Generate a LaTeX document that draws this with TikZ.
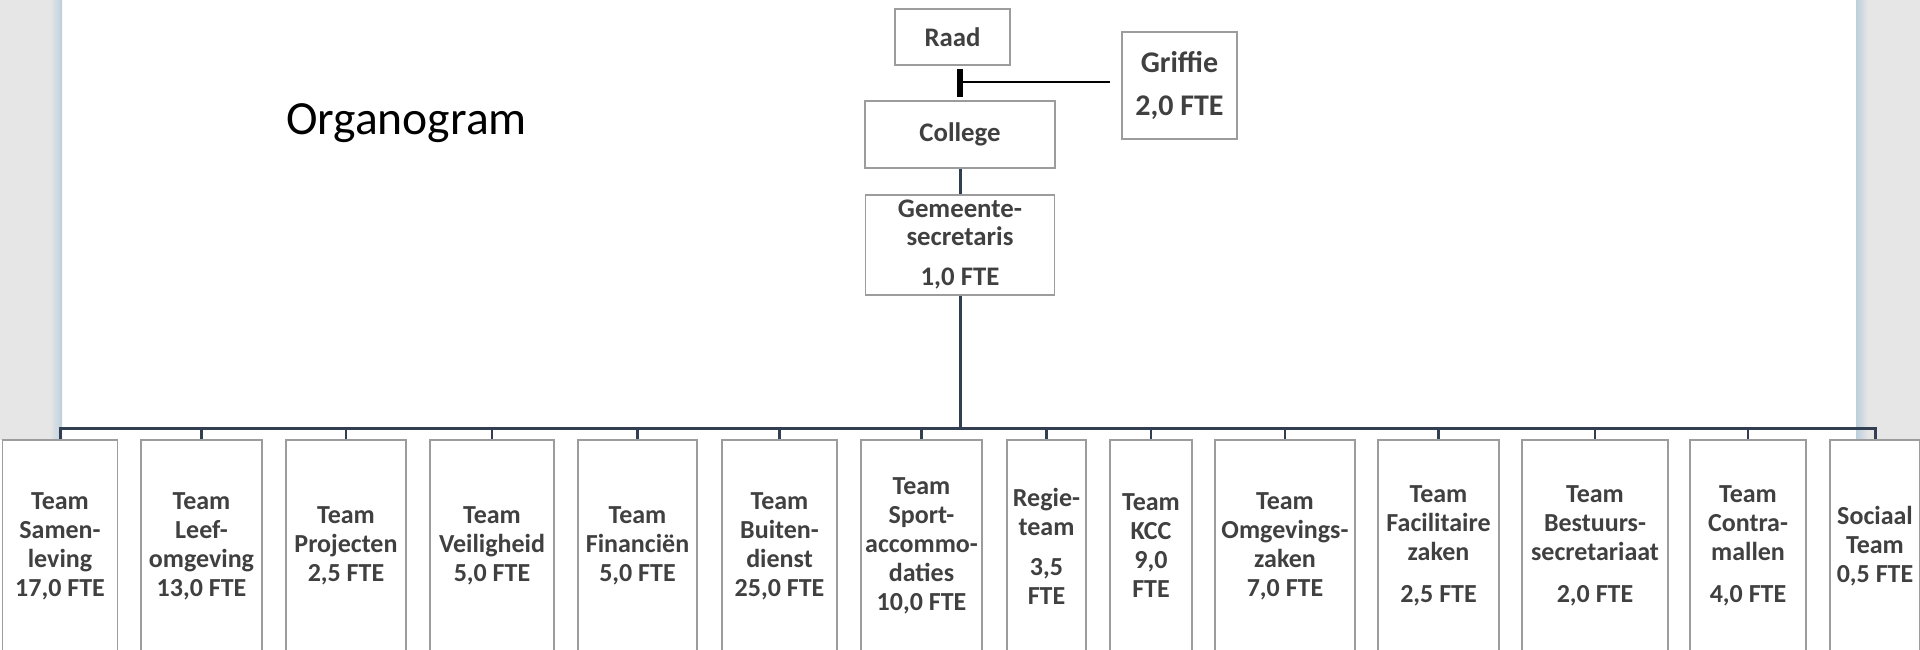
\documentclass[tikz,border=0pt]{standalone}
\usepackage{fontspec}
\setmainfont{Carlito}
\definecolor{achtergrond}{HTML}{E6E6E6}
\definecolor{paginarand}{HTML}{BCCFDB}
\definecolor{randgrijs}{HTML}{9C9C9C}
\definecolor{tekstgrijs}{HTML}{404040}
\definecolor{lijnblauw}{HTML}{323E52}

\tikzset{
  doos/.style={draw=randgrijs,line width=0.75pt,fill=white,inner sep=0pt,align=center,text=tekstgrijs},
  team/.style={doos,minimum width=#1,minimum height=106pt,font=\bfseries\fontsize{13}{14.5}\selectfont},
  bestuur/.style={doos,font=\bfseries\fontsize{13.4}{14}\selectfont},
  lijn/.style={draw=lijnblauw,line width=1.5pt},
  tak/.style={draw=lijnblauw,line width=1.1pt}
}

\begin{document}
\begin{tikzpicture}[x=0.5pt,y=-0.5pt]
\useasboundingbox (0,0) rectangle (1920,649);
\clip (0,0) rectangle (1920,649);

\fill[achtergrond] (0,0) rectangle (1920,440);
\fill[white] (62,0) rectangle (1856,440);
\shade[left color=achtergrond,right color=paginarand] (50,0) rectangle (62,440);
\shade[left color=paginarand,right color=achtergrond] (1856,0) rectangle (1868,440);

\node[anchor=base west,font=\fontsize{23.8}{28}\selectfont] (titel) at (279,134) {Organogram};

\node[bestuur,minimum width=57.5pt,minimum height=28pt] (raad) at (952.5,37) {Raad};
\node[bestuur,minimum width=95pt,minimum height=33.5pt] (college) at (960,134.5) {College};
\node[bestuur,minimum width=94.5pt,minimum height=50pt] (gemeente) at (960,245) {Gemeente-\\secretaris\\[6pt]1,0 FTE};
\node[bestuur,minimum width=57.5pt,minimum height=53.5pt,font=\bfseries\fontsize{15}{21.5}\selectfont] (griffie) at (1179.5,85.5) {Griffie\\2,0 FTE};

\coordinate (knik) at (960,82);
\coordinate (bus) at (960,428);
\draw[line width=3pt,shorten <=1.5pt,shorten >=1.5pt] (college.north |- raad.south) -- (college.north);
\draw[line width=1.1pt] (knik) -- ([xshift=-5.5pt]griffie.west |- knik);
\draw[lijn] (college.south) -- (gemeente.north);
\draw[lijn] (gemeente.south) -- (bus);

\node[team=57.5pt] (samen) at (60,546) {Team\\Samen-\\leving\\17,0 FTE};
\node[team=60.5pt] (leef) at (201.5,546) {Team\\Leef-\\omgeving\\13,0 FTE};
\node[team=60pt] (proj) at (346,546) {Team\\Projecten\\2,5 FTE};
\node[team=62pt] (veil) at (492,546) {Team\\Veiligheid\\5,0 FTE};
\node[team=59.5pt] (fin) at (637.5,546) {Team\\Financiën\\5,0 FTE};
\node[team=57.5pt] (buiten) at (779.5,546) {Team\\Buiten-\\dienst\\25,0 FTE};
\node[team=60.5pt] (sport) at (921.5,546) {Team\\Sport-\\accommo-\\daties\\10,0 FTE};
\node[team=39.5pt] (regie) at (1046.5,546) {Regie-\\team\\[5.5pt]3,5\\FTE};
\node[team=41pt] (kcc) at (1151,546) {Team\\KCC\\9,0\\FTE};
\node[team=70pt] (omg) at (1285,546) {Team\\Omgevings-\\zaken\\7,0 FTE};
\node[team=60.5pt] (fac) at (1438.5,546) {Team\\Facilitaire\\zaken\\[6.5pt]2,5 FTE};
\node[team=73pt] (best) at (1595,546) {Team\\Bestuurs-\\secretariaat\\[6.5pt]2,0 FTE};
\node[team=58pt] (contra) at (1748,546) {Team\\Contra-\\mallen\\[6.5pt]4,0 FTE};
\node[team=45pt] (soc) at (1875,546) {Sociaal\\Team\\0,5 FTE};

\draw[lijn] (samen.north) -- (samen.north |- bus) -- (soc.north |- bus) -- (soc.north);
\foreach \t in {leef,proj,veil,fin,buiten,sport,regie,kcc,omg,fac,best,contra}
  \draw[tak] (\t.north |- bus) -- (\t.north);

\end{tikzpicture}
\end{document}
